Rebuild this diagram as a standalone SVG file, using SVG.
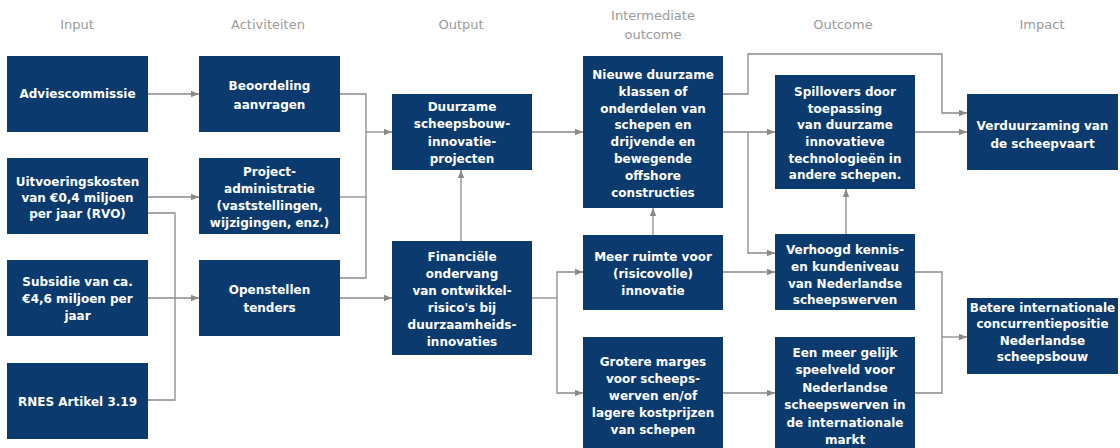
<svg xmlns="http://www.w3.org/2000/svg" width="1120" height="448" viewBox="0 0 1120 448">
<style>
.hd{font-family:"DejaVu Sans","Liberation Sans",sans-serif;font-size:13px;fill:#9a9a9a;text-anchor:middle}
.bx{fill:#0b3b6e}
.tx{font-family:"DejaVu Sans","Liberation Sans",sans-serif;font-size:12px;font-weight:bold;fill:#ffffff;text-anchor:middle}
.ln{fill:none;stroke:#8e8884;stroke-width:1.3}
.ar{marker-end:url(#ah)}
</style>
<defs>
<marker id="ah" markerUnits="userSpaceOnUse" markerWidth="9" markerHeight="8" refX="8" refY="4" orient="auto">
<path d="M0,0.8 L8,4 L0,7.2 Z" fill="#8e8884"/>
</marker>
</defs>
<rect width="1120" height="448" fill="#ffffff"/>
<g id="headers">
<text class="hd" x="77" y="29">Input</text>
<text class="hd" x="268" y="29">Activiteiten</text>
<text class="hd" x="461" y="29">Output</text>
<text class="hd" x="653" y="20">Intermediate</text>
<text class="hd" x="653" y="39">outcome</text>
<text class="hd" x="843" y="29">Outcome</text>
<text class="hd" x="1042" y="29">Impact</text>
</g>
<g id="connectors">
<path class="ln ar" d="M148,94 H199"/>
<path class="ln ar" d="M148,197 H199"/>
<path class="ln ar" d="M148,298 H199"/>
<path class="ln" d="M148,213 H175 V400 H148"/>
<path class="ln" d="M340,94 H366 V278 H340"/>
<path class="ln" d="M340,197 H366"/>
<path class="ln ar" d="M366,132 H392"/>
<path class="ln ar" d="M340,298 H392"/>
<path class="ln ar" d="M461,241 V170"/>
<path class="ln ar" d="M532,132 H583"/>
<path class="ln" d="M532,298 H557"/>
<path class="ln ar" d="M557,298 V272 H583"/>
<path class="ln ar" d="M557,298 V393 H583"/>
<path class="ln ar" d="M653,235 V208"/>
<path class="ln ar" d="M723,94 H748 V54 H942 V113 H967"/>
<path class="ln ar" d="M723,132 H775"/>
<path class="ln ar" d="M748,132 V253 H775"/>
<path class="ln ar" d="M723,272 H775"/>
<path class="ln ar" d="M723,393 H775"/>
<path class="ln ar" d="M846,234 V189"/>
<path class="ln ar" d="M915,132 H967"/>
<path class="ln" d="M915,272 H942 V393 H915"/>
<path class="ln ar" d="M942,337 H967"/>
</g>
<g id="n-adviescommissie">
<rect class="bx" x="7" y="56" width="141" height="76"/>
<text class="tx" x="77.5" y="98">Adviescommissie</text>
</g>
<g id="n-uitvoeringskosten">
<rect class="bx" x="7" y="158" width="141" height="76"/>
<text class="tx" x="77.5" y="186">Uitvoeringskosten</text>
<text class="tx" x="77.5" y="202">van €0,4 miljoen</text>
<text class="tx" x="77.5" y="218">per jaar (RVO)</text>
</g>
<g id="n-subsidie">
<rect class="bx" x="7" y="260" width="141" height="76"/>
<text class="tx" x="77.5" y="286">Subsidie van ca.</text>
<text class="tx" x="77.5" y="303">€4,6 miljoen per</text>
<text class="tx" x="77.5" y="320">jaar</text>
</g>
<g id="n-rnes">
<rect class="bx" x="7" y="363" width="141" height="76"/>
<text class="tx" x="77.5" y="406">RNES Artikel 3.19</text>
</g>
<g id="n-beoordeling">
<rect class="bx" x="199" y="56" width="141" height="76"/>
<text class="tx" x="269.5" y="90">Beoordeling</text>
<text class="tx" x="269.5" y="109">aanvragen</text>
</g>
<g id="n-projectadministratie">
<rect class="bx" x="199" y="158" width="141" height="76"/>
<text class="tx" x="269.5" y="176">Project-</text>
<text class="tx" x="269.5" y="193">administratie</text>
<text class="tx" x="269.5" y="210">(vaststellingen,</text>
<text class="tx" x="269.5" y="227">wijzigingen, enz.)</text>
</g>
<g id="n-openstellen">
<rect class="bx" x="199" y="260" width="141" height="76"/>
<text class="tx" x="269.5" y="294">Openstellen</text>
<text class="tx" x="269.5" y="312">tenders</text>
</g>
<g id="n-duurzame">
<rect class="bx" x="392" y="94" width="140" height="76"/>
<text class="tx" x="462" y="111">Duurzame</text>
<text class="tx" x="462" y="128">scheepsbouw-</text>
<text class="tx" x="462" y="146">innovatie-</text>
<text class="tx" x="462" y="163">projecten</text>
</g>
<g id="n-financiele">
<rect class="bx" x="392" y="241" width="140" height="114"/>
<text class="tx" x="462" y="261">Financiële</text>
<text class="tx" x="462" y="278">ondervang</text>
<text class="tx" x="462" y="295">van ontwikkel-</text>
<text class="tx" x="462" y="312">risico's bij</text>
<text class="tx" x="462" y="329">duurzaamheids-</text>
<text class="tx" x="462" y="346">innovaties</text>
</g>
<g id="n-nieuwe">
<rect class="bx" x="583" y="56" width="140" height="152"/>
<text class="tx" x="653" y="79">Nieuwe duurzame</text>
<text class="tx" x="653" y="96">klassen of</text>
<text class="tx" x="653" y="113">onderdelen van</text>
<text class="tx" x="653" y="129">schepen en</text>
<text class="tx" x="653" y="146">drijvende en</text>
<text class="tx" x="653" y="163">bewegende</text>
<text class="tx" x="653" y="180">offshore</text>
<text class="tx" x="653" y="197">constructies</text>
</g>
<g id="n-meerruimte">
<rect class="bx" x="583" y="235" width="140" height="75"/>
<text class="tx" x="653" y="261">Meer ruimte voor</text>
<text class="tx" x="653" y="278">(risicovolle)</text>
<text class="tx" x="653" y="295">innovatie</text>
</g>
<g id="n-grotere">
<rect class="bx" x="583" y="337" width="140" height="111"/>
<text class="tx" x="653" y="366">Grotere marges</text>
<text class="tx" x="653" y="383">voor scheeps-</text>
<text class="tx" x="653" y="400">werven en/of</text>
<text class="tx" x="653" y="417">lagere kostprijzen</text>
<text class="tx" x="653" y="434">van schepen</text>
</g>
<g id="n-spillovers">
<rect class="bx" x="775" y="75" width="140" height="114"/>
<text class="tx" x="845" y="96">Spillovers door</text>
<text class="tx" x="845" y="113">toepassing</text>
<text class="tx" x="845" y="129">van duurzame</text>
<text class="tx" x="845" y="146">innovatieve</text>
<text class="tx" x="845" y="163">technologieën in</text>
<text class="tx" x="845" y="179">andere schepen.</text>
</g>
<g id="n-verhoogd">
<rect class="bx" x="775" y="234" width="140" height="76"/>
<text class="tx" x="845" y="254">Verhoogd kennis-</text>
<text class="tx" x="845" y="271">en kundeniveau</text>
<text class="tx" x="845" y="288">van Nederlandse</text>
<text class="tx" x="845" y="304">scheepswerven</text>
</g>
<g id="n-gelijkspeelveld">
<rect class="bx" x="775" y="337" width="140" height="111"/>
<text class="tx" x="845" y="357">Een meer gelijk</text>
<text class="tx" x="845" y="374">speelveld voor</text>
<text class="tx" x="845" y="392">Nederlandse</text>
<text class="tx" x="845" y="409">scheepswerven in</text>
<text class="tx" x="845" y="427">de internationale</text>
<text class="tx" x="845" y="444">markt</text>
</g>
<g id="n-verduurzaming">
<rect class="bx" x="967" y="94" width="151" height="76"/>
<text class="tx" x="1042.5" y="130">Verduurzaming van</text>
<text class="tx" x="1042.5" y="148">de scheepvaart</text>
</g>
<g id="n-betere">
<rect class="bx" x="967" y="298" width="151" height="76"/>
<text class="tx" x="1042.5" y="312">Betere internationale</text>
<text class="tx" x="1042.5" y="328">concurrentiepositie</text>
<text class="tx" x="1042.5" y="345">Nederlandse</text>
<text class="tx" x="1042.5" y="361">scheepsbouw</text>
</g>
</svg>
